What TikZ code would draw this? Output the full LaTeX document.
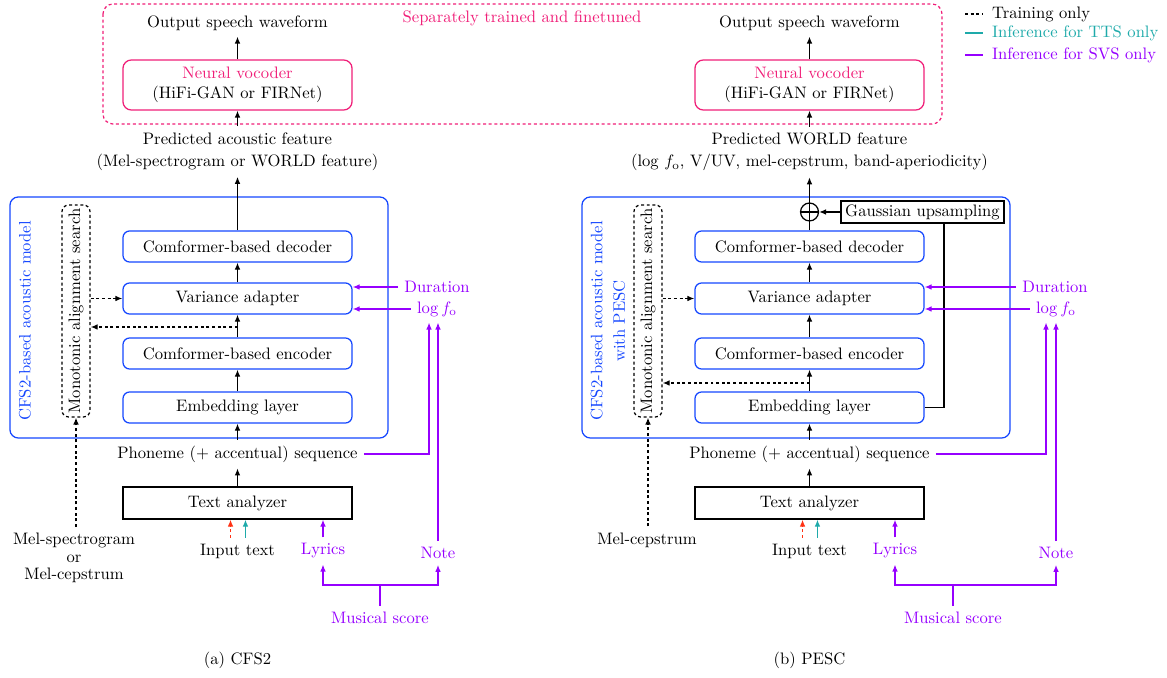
\documentclass[tikz,border=0pt]{standalone}
\usetikzlibrary{arrows.meta}
\definecolor{vpink}{RGB}{240,30,120}
\definecolor{vblue}{RGB}{20,70,255}
\definecolor{vviolet}{RGB}{150,0,255}
\definecolor{vteal}{RGB}{30,170,170}
\definecolor{vred}{RGB}{255,50,20}
\begin{document}
\begin{tikzpicture}[x=0.602pt,y=-0.602pt, >={Latex[length=4.2pt,width=3.4pt]}, line width=0.75pt,
 blk/.style={draw=vblue, rounded corners=4pt, minimum width=137.9pt, minimum height=18.7pt, inner sep=0pt},
 voc/.style={draw=vpink, rounded corners=5pt, minimum width=137.9pt, minimum height=30.1pt, inner sep=0pt, align=center},
 ta/.style={draw, minimum width=137.9pt, minimum height=19.3pt, inner sep=0pt},
 dsh/.style={dash pattern=on 1.8pt off 1.6pt},
 mas/.style={draw, dsh, rounded corners=4pt, minimum width=16.9pt, minimum height=127.6pt, inner sep=0pt},
 outer/.style={draw=vblue, rounded corners=5pt, minimum height=145.1pt, inner sep=0pt},
 tr/.style={->, dsh},
 sv/.style={->, vviolet},
 vt/.style={text=vviolet}]
\useasboundingbox (0,0) rectangle (1167,678);
% separately trained box
\draw[vpink, dsh, rounded corners=6pt] (103,4) rectangle (942,124);
\node[text=vpink] (septxt) at (522,18) {Separately trained and finetuned};
% legend
\node[anchor=west] (lg1) at (986,14) {Training only};
\node[anchor=west, text=vteal] (lg2) at (986,33) {Inference for TTS only};
\node[anchor=west, text=vviolet] (lg3) at (986,55) {Inference for SVS only};
\draw[dsh] (965,14) -- (983,14);
\draw[vteal] (965,33) -- (983,33);
\draw[vviolet] (965,55) -- (983,55);

% ===== (a) CFS2 =====
\node (outA) at (237.5,23) {Output speech waveform};
\node[voc] (vocA) at (237.5,85) {\textcolor{vpink}{Neural vocoder}\\(HiFi-GAN or FIRNet)};
\node[align=center] (featA) at (237.5,151.5) {Predicted acoustic feature\\[1.5pt](Mel-spectrogram or WORLD feature)};
\node[outer, minimum width=227.6pt] (mdlA) at (199,317.5) {};
\node[blk] (decA) at (237.5,246.5) {Comformer-based decoder};
\node[blk] (vaA) at (237.5,298.5) {Variance adapter};
\node[blk] (encA) at (237.5,353.5) {Comformer-based encoder};
\node[blk] (embA) at (237.5,407.5) {Embedding layer};
\node[mas] (masA) at (76,311) {\rotatebox{90}{Monotonic alignment search}};
\node[text=vblue, rotate=90] (lblA) at (25,321) {CFS2-based acoustic model};
\node (phA) at (237.5,454) {Phoneme (+ accentual) sequence};
\node[ta] (taA) at (237.5,503) {Text analyzer};
\node (inA) at (237.5,551) {Input text};
\node[vt] (lyA) at (323,551) {Lyrics};
\node[vt] (noA) at (438,553) {Note};
\node[vt] (msA) at (380,618) {Musical score};
\node[vt] (durA) at (437,287) {Duration};
\node[vt] (f0A) at (437,309) {$\log f_{\mathrm{o}}$};
\node[align=center] (melA) at (74,558) {Mel-spectrogram\\[-1.5pt]or\\[-1.5pt]Mel-cepstrum};
\node (capA) at (237.5,660) {(a) CFS2};

\draw[->] (vocA.north) -- (outA.south);
\draw[->] (featA.north) -- (vocA.south);
\draw[->] (decA.north) -- (featA.south);
\draw[->] (vaA.north) -- (decA.south);
\draw[->] (encA.north) -- (vaA.south);
\draw[->] (embA.north) -- (encA.south);
\draw[->] (phA.north) -- (embA.south);
\draw[->] (taA.north) -- (phA.south);
\coordinate (jA) at (237.5,327);
\draw[tr] (jA) -- (masA.east |- jA);
\draw[tr] (masA.east |- vaA.west) -- (vaA.west);
\draw[tr] (masA.south |- melA.north) -- (masA.south);
\draw[->, vred, dsh] ([xshift=-4.2pt]inA.north) -- ([xshift=-4.2pt]inA.north |- taA.south);
\draw[->, vteal] ([xshift=4.8pt]inA.north) -- ([xshift=4.8pt]inA.north |- taA.south);
\draw[sv] (lyA.north) -- (lyA.north |- taA.south);
\draw[vviolet] (msA.north) -- ++(0,-21) coordinate (jmA);
\draw[sv] (jmA) -| (lyA.south);
\draw[sv] (jmA) -| (noA.south);
\draw[sv] (noA.north) -- (noA.north |- f0A.south);
\draw[sv] (phA.east) -| ([xshift=-4.8pt]f0A.south);
\draw[sv] (durA.west) -- (vaA.east |- durA.west);
\draw[sv] (f0A.west) -- (vaA.east |- f0A.west);

% ===== (b) PESC =====
\node (outB) at (809.5,23) {Output speech waveform};
\node[voc] (vocB) at (809.5,85) {\textcolor{vpink}{Neural vocoder}\\(HiFi-GAN or FIRNet)};
\node[align=center] (featB) at (809.5,152) {Predicted WORLD feature\\[1.5pt](log $f_{\mathrm{o}}$, V/UV, mel-cepstrum, band-aperiodicity)};
\node[outer, minimum width=257.7pt] (mdlB) at (796,317.5) {};
\node[blk] (decB) at (809.5,246.5) {Comformer-based decoder};
\node[blk] (vaB) at (809.5,298.5) {Variance adapter};
\node[blk] (encB) at (809.5,353.5) {Comformer-based encoder};
\node[blk] (embB) at (809.5,407.5) {Embedding layer};
\node[mas] (masB) at (648,311) {\rotatebox{90}{Monotonic alignment search}};
\node[text=vblue, rotate=90, align=center] (lblB) at (608,321) {CFS2-based acoustic model\\[1.5pt]with PESC};
\node[draw, circle, minimum size=10.8pt, inner sep=0pt] (opB) at (809.5,212) {};
\draw (opB.north) -- (opB.south) (opB.west) -- (opB.east);
\node[draw, minimum width=98.1pt, minimum height=13.2pt, inner sep=0pt] (gsB) at (922.5,212) {Gaussian upsampling};
\node (phB) at (809.5,454) {Phoneme (+ accentual) sequence};
\node[ta] (taB) at (809.5,503) {Text analyzer};
\node (inB) at (809.5,551) {Input text};
\node[vt] (lyB) at (895,551) {Lyrics};
\node[vt] (noB) at (1056,553) {Note};
\node[vt] (msB) at (953,618) {Musical score};
\node[vt] (durB) at (1055,287) {Duration};
\node[vt] (f0B) at (1056,309) {$\log f_{\mathrm{o}}$};
\node (melB) at (647,540) {Mel-cepstrum};
\node (capB) at (809.5,660) {(b) PESC};

\draw[->] (vocB.north) -- (outB.south);
\draw[->] (featB.north) -- (vocB.south);
\draw[->] (opB.north) -- (featB.south);
\draw (decB.north) -- (opB.south);
\draw[->] (gsB.west) -- (opB.east);
\draw (embB.east) -| ([xshift=12.9pt]gsB.south);
\draw[->] (vaB.north) -- (decB.south);
\draw[->] (encB.north) -- (vaB.south);
\draw[->] (embB.north) -- (encB.south);
\draw[->] (phB.north) -- (embB.south);
\draw[->] (taB.north) -- (phB.south);
\coordinate (jB) at (809.5,383);
\draw[tr] (jB) -- (masB.east |- jB);
\draw[tr] (masB.east |- vaB.west) -- (vaB.west);
\draw[tr] (masB.south |- melB.north) -- (masB.south);
\draw[->, vred, dsh] ([xshift=-4.2pt]inB.north) -- ([xshift=-4.2pt]inB.north |- taB.south);
\draw[->, vteal] ([xshift=4.8pt]inB.north) -- ([xshift=4.8pt]inB.north |- taB.south);
\draw[sv] (lyB.north) -- (lyB.north |- taB.south);
\draw[vviolet] (msB.north) -- ++(0,-21) coordinate (jmB);
\draw[sv] (jmB) -| (lyB.south);
\draw[sv] (jmB) -| (noB.south);
\draw[sv] (noB.north) -- (noB.north |- f0B.south);
\draw[sv] (phB.east) -| ([xshift=-6pt]f0B.south);
\draw[sv] (durB.west) -- (vaB.east |- durB.west);
\draw[sv] (f0B.west) -- (vaB.east |- f0B.west);
\end{tikzpicture}
\end{document}
